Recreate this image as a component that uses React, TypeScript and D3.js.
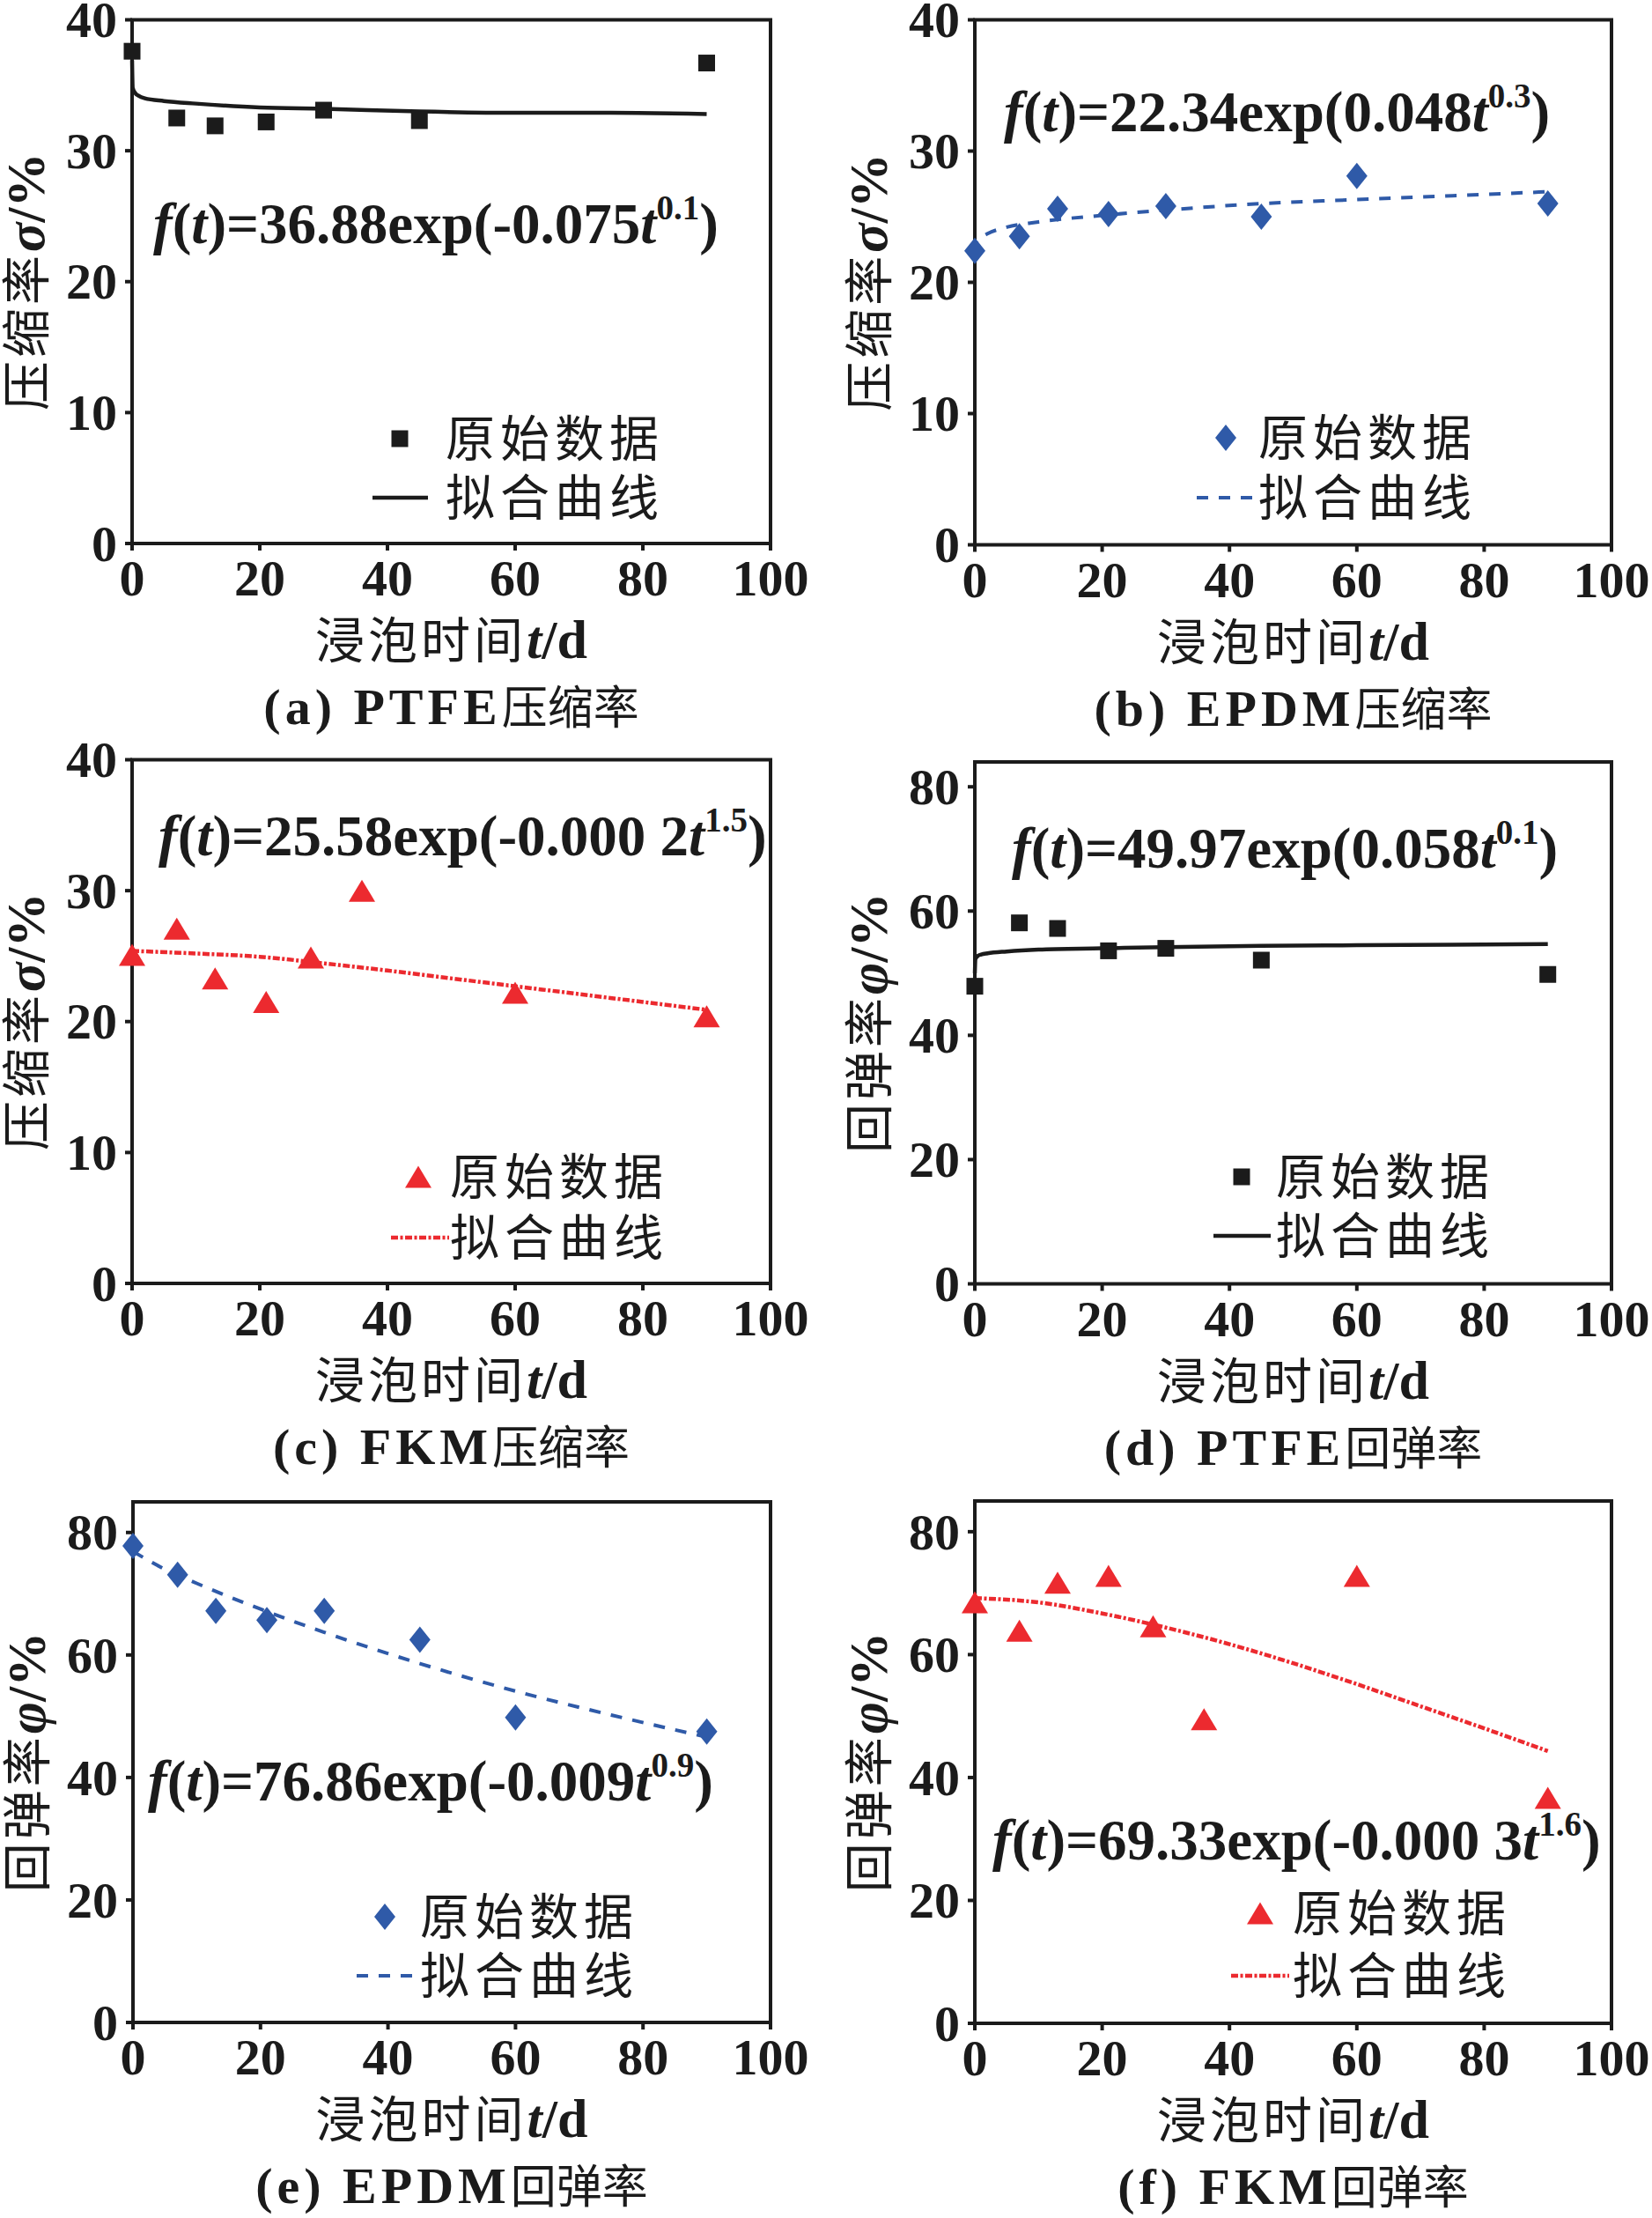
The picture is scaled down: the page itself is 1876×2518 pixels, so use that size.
import * as d3 from 'd3';

// immersion time, days
const daysA = [0, 7, 13, 21, 30, 45, 90];
const daysB = [0, 7, 13, 21, 30, 45, 60, 90];
const daysC = [0, 7, 13, 21, 28, 36, 60, 90];

// measured values, %
const ptfeCompress = [37.6, 32.5, 31.9, 32.2, 33.1, 32.3, 36.7];
const epdmCompress = [22.4, 23.5, 25.6, 25.2, 25.8, 25.0, 28.1, 26.0];
const fkmCompress = [25.1, 27.1, 23.3, 21.5, 24.9, 30.0, 22.2, 20.4];
const ptfeRebound = [47.9, 58.1, 57.2, 53.6, 54.0, 52.1, 49.8];
const epdmRebound = [77.8, 73.1, 67.2, 65.7, 67.2, 62.5, 49.8, 47.5];
const fkmRebound = [68.5, 63.9, 71.7, 72.8, 64.6, 49.5, 72.8, 36.7];

// fitted curves
const fitDaysA = [0, 0.1, 0.5, 1, 2, 5, 10, 20, 30, 45, 60, 75, 90];
const fitDaysB = [0, 0.2, 1, 2, 5, 10, 20, 30, 45, 60, 75, 90];
const fitDaysC = [0, 10, 20, 30, 40, 50, 60, 70, 80, 90];
const fitDaysE = [0, 5, 10, 20, 30, 45, 60, 75, 90];
const ptfeCompressFit = [36.9, 34.8, 34.4, 34.2, 34.0, 33.8, 33.6, 33.3, 33.2, 33.0, 32.9, 32.9, 32.8];
const epdmCompressFit = [22.3, 23.0, 23.4, 23.7, 24.2, 24.6, 25.1, 25.5, 26.0, 26.3, 26.6, 26.9];
const fkmCompressFit = [25.4, 25.2, 24.95, 24.45, 23.9, 23.3, 22.7, 22.1, 21.5, 20.9];
const ptfeReboundFit = [50.0, 52.3, 52.8, 53.0, 53.2, 53.5, 53.8, 54.0, 54.2, 54.4, 54.5, 54.6, 54.7];
const epdmReboundFit = [76.9, 74.0, 71.7, 67.5, 63.7, 58.6, 54.1, 50.2, 46.6];
const fkmReboundFit = [69.2, 68.5, 66.7, 64.4, 61.7, 58.6, 55.2, 51.6, 48.0, 44.3];

const xTicks = [0, 20, 40, 60, 80, 100];
const compressTicks = [0, 10, 20, 30, 40];
const reboundTicks = [0, 20, 40, 60, 80];

const BLUE = '#2f5aa8';
const RED = '#ec2a2f';
const INK = '#1b1b1b';
const SERIF = "'Liberation Serif', 'Times New Roman', serif";
const CJK = "'Noto Sans CJK SC', 'Noto Sans CJK JP', sans-serif";

type Marker = 'square' | 'diamond' | 'triangle';

const markerPath = (m: Marker) =>
  m === 'square'
    ? 'M-9.5,-9.5H9.5V9.5H-9.5Z'
    : m === 'diamond'
    ? 'M0,-15L12,0L0,15L-12,0Z'
    : 'M0,-12.5L15,12.5L-15,12.5Z';

const lineStyles = {
  square: { stroke: INK, width: 4.5, dash: undefined as string | undefined },
  diamond: { stroke: BLUE, width: 4, dash: '13 12' },
  triangle: { stroke: RED, width: 4.5, dash: '8 2.5 3 2.5' },
};

const panels = [
  {
    key: 'a', x0: 150, x1: 875, y0: 22.5, y1: 617, yMax: 40, yTicks: compressTicks,
    days: daysA, values: ptfeCompress, fitDays: fitDaysA, fit: ptfeCompressFit,
    marker: 'square' as Marker, color: INK,
    yName: '压缩率', ySym: 'σ', caption: '(a) PTFE', cname: '压缩率',
    coef: '36.88', inner: '-0.075', power: '0.1', eqX: 174, eqY: 276,
    legX: 454, legY1: 498, legY2: 565, lineX0: 423, lineX1: 486, textX: 506,
  },
  {
    key: 'b', x0: 1107, x1: 1830, y0: 22.5, y1: 618.5, yMax: 40, yTicks: compressTicks,
    days: daysB, values: epdmCompress, fitDays: fitDaysB, fit: epdmCompressFit,
    marker: 'diamond' as Marker, color: BLUE,
    yName: '压缩率', ySym: 'σ', caption: '(b) EPDM', cname: '压缩率',
    coef: '22.34', inner: '0.048', power: '0.3', eqX: 1140, eqY: 149,
    legX: 1392, legY1: 497, legY2: 565, lineX0: 1359, lineX1: 1428, textX: 1429,
  },
  {
    key: 'c', x0: 150, x1: 875, y0: 862.5, y1: 1457, yMax: 40, yTicks: compressTicks,
    days: daysC, values: fkmCompress, fitDays: fitDaysC, fit: fkmCompressFit,
    marker: 'triangle' as Marker, color: RED,
    yName: '压缩率', ySym: 'σ', caption: '(c) FKM', cname: '压缩率',
    coef: '25.58', inner: '-0.000 2', power: '1.5', eqX: 180, eqY: 971,
    legX: 475, legY1: 1336, legY2: 1405, lineX0: 444, lineX1: 510, textX: 511,
  },
  {
    key: 'd', x0: 1107, x1: 1830, y0: 865, y1: 1457.5, yMax: 84, yTicks: reboundTicks,
    days: daysA, values: ptfeRebound, fitDays: fitDaysA, fit: ptfeReboundFit,
    marker: 'square' as Marker, color: INK,
    yName: '回弹率', ySym: 'φ', caption: '(d) PTFE', cname: '回弹率',
    coef: '49.97', inner: '0.058', power: '0.1', eqX: 1149, eqY: 985,
    legX: 1410, legY1: 1336, legY2: 1403, lineX0: 1378, lineX1: 1443, textX: 1449,
  },
  {
    key: 'e', x0: 151, x1: 875, y0: 1705, y1: 2296, yMax: 85, yTicks: reboundTicks,
    days: daysB, values: epdmRebound, fitDays: fitDaysE, fit: epdmReboundFit,
    marker: 'diamond' as Marker, color: BLUE,
    yName: '回弹率', ySym: 'φ', caption: '(e) EPDM', cname: '回弹率',
    coef: '76.86', inner: '-0.009', power: '0.9', eqX: 168, eqY: 2044,
    legX: 437, legY1: 2176, legY2: 2243, lineX0: 405, lineX1: 471, textX: 477,
  },
  {
    key: 'f', x0: 1107, x1: 1830, y0: 1704, y1: 2297, yMax: 85, yTicks: reboundTicks,
    days: daysC, values: fkmRebound, fitDays: fitDaysC, fit: fkmReboundFit,
    marker: 'triangle' as Marker, color: RED,
    yName: '回弹率', ySym: 'φ', caption: '(f) FKM', cname: '回弹率',
    coef: '69.33', inner: '-0.000 3', power: '1.6', eqX: 1127, eqY: 2111,
    legX: 1431, legY1: 2172, legY2: 2243, lineX0: 1398, lineX1: 1464, textX: 1468,
  },
];

type PanelCfg = (typeof panels)[number];

function Panel({ p }: { p: PanelCfg }) {
  const x = d3.scaleLinear().domain([0, 100]).range([p.x0, p.x1]);
  const y = d3.scaleLinear().domain([0, p.yMax]).range([p.y1, p.y0]);
  const line = d3
    .line<[number, number]>()
    .x((d) => x(d[0]))
    .y((d) => y(d[1]))
    .curve(d3.curveMonotoneX);
  const fitPts = p.fitDays.map((t, i) => [t, p.fit[i]] as [number, number]);
  const ls = lineStyles[p.marker];
  const cx = (p.x0 + p.x1) / 2;
  const cy = (p.y0 + p.y1) / 2;

  return (
    <g>
      {/* frame + ticks */}
      <rect x={p.x0} y={p.y0} width={p.x1 - p.x0} height={p.y1 - p.y0} fill="none" stroke={INK} strokeWidth={4} />
      {xTicks.map((t) => (
        <g key={'x' + t}>
          <line x1={x(t)} x2={x(t)} y1={p.y1} y2={p.y1 + 8} stroke={INK} strokeWidth={4} />
          <text x={x(t)} y={p.y1 + 59} textAnchor="middle" fontFamily={SERIF} fontWeight="bold" fontSize={58} fill={INK}>
            {t}
          </text>
        </g>
      ))}
      {p.yTicks.map((t) => (
        <g key={'y' + t}>
          <line x1={p.x0 - 8} x2={p.x0} y1={y(t)} y2={y(t)} stroke={INK} strokeWidth={4} />
          <text x={p.x0 - 17} y={y(t)} dy="0.34em" textAnchor="end" fontFamily={SERIF} fontWeight="bold" fontSize={58} fill={INK}>
            {t}
          </text>
        </g>
      ))}

      {/* fitted curve and measured points */}
      <path d={line(fitPts) || ''} fill="none" stroke={ls.stroke} strokeWidth={ls.width} strokeDasharray={ls.dash} />
      {p.days.map((t, i) => (
        <path key={i} transform={`translate(${x(t)},${y(p.values[i])})`} d={markerPath(p.marker)} fill={p.color} />
      ))}

      {/* equation */}
      <text x={p.eqX} y={p.eqY} fontFamily={SERIF} fontWeight="bold" fontSize={65} fill={INK}>
        <tspan fontStyle="italic">f</tspan>
        <tspan>(</tspan>
        <tspan fontStyle="italic">t</tspan>
        <tspan>{`)=${p.coef}exp(${p.inner}`}</tspan>
        <tspan fontStyle="italic">t</tspan>
        <tspan fontSize={39} dy={-27}>{p.power}</tspan>
        <tspan dy={27}>)</tspan>
      </text>

      {/* legend */}
      <path transform={`translate(${p.legX},${p.legY1})`} d={markerPath(p.marker)} fill={p.color} />
      <line x1={p.lineX0} x2={p.lineX1} y1={p.legY2} y2={p.legY2} stroke={ls.stroke} strokeWidth={ls.width} strokeDasharray={ls.dash} />
      <text x={p.textX} y={p.legY1 + 20} fontFamily={CJK} fontSize={56} letterSpacing={6} fill={INK}>
        原始数据
      </text>
      <text x={p.textX} y={p.legY2 + 20} fontFamily={CJK} fontSize={56} letterSpacing={6} fill={INK}>
        拟合曲线
      </text>

      {/* axis titles */}
      <text transform={`translate(${p.x0 - 100},${cy}) rotate(-90)`} textAnchor="middle" fill={INK}>
        <tspan fontFamily={CJK} fontSize={56} letterSpacing={4}>{p.yName}</tspan>
        <tspan fontFamily={SERIF} fontWeight="bold" fontStyle="italic" fontSize={62}>{p.ySym}</tspan>
        <tspan fontFamily={SERIF} fontWeight="bold" fontSize={62}>/%</tspan>
      </text>
      <text x={cx} y={p.y1 + 130} textAnchor="middle" fill={INK}>
        <tspan fontFamily={CJK} fontSize={56} letterSpacing={4}>浸泡时间</tspan>
        <tspan fontFamily={SERIF} fontWeight="bold" fontStyle="italic" fontSize={62}>t</tspan>
        <tspan fontFamily={SERIF} fontWeight="bold" fontSize={62}>/d</tspan>
      </text>
      <text x={cx} y={p.y1 + 205} textAnchor="middle" fill={INK}>
        <tspan fontFamily={SERIF} fontWeight="bold" fontSize={58} letterSpacing={5}>{p.caption}</tspan>
        <tspan fontFamily={CJK} fontSize={52}>{p.cname}</tspan>
      </text>
    </g>
  );
}

export default function App() {
  return (
    <svg
      width={1876}
      height={2518}
      viewBox="0 0 1876 2518"
      style={{ position: 'absolute', left: 0, top: 0, background: '#fff' }}
    >
      {panels.map((p) => (
        <Panel key={p.key} p={p} />
      ))}
    </svg>
  );
}
